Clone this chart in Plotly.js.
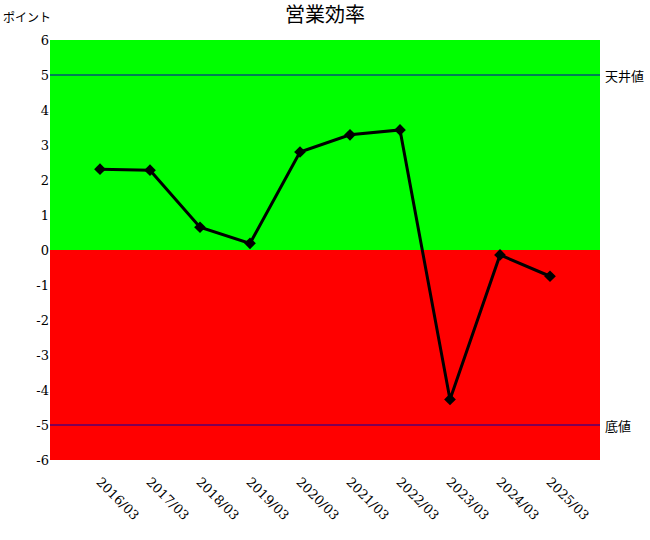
<!DOCTYPE html>
<html>
<head>
<meta charset="utf-8">
<script src="https://cdn.plot.ly/plotly-3.0.1.min.js"></script>
<style>body{margin:0;padding:0;} #chart{width:650px;height:540px;}</style>
</head>
<body>
<div id="chart"></div>
<script>
const categories = ["2016/03","2017/03","2018/03","2019/03","2020/03","2021/03","2022/03","2023/03","2024/03","2025/03"];
const values = [2.31, 2.28, 0.65, 0.19, 2.8, 3.29, 3.43, -4.27, -0.14, -0.75];
const ceilingValue = 5;
const floorValue = -5;
const yTicks = [-6,-5,-4,-3,-2,-1,0,1,2,3,4,5,6];

const trace = {
  x: categories.map((c,i)=>i),
  y: values,
  type: 'scatter',
  mode: 'lines+markers',
  line: {color: '#000000', width: 3},
  marker: {color: '#000000', size: 9, symbol: 'diamond'},
  hoverinfo: 'skip'
};

const layout = {
  width: 650, height: 540,
  margin: {l: 50, r: 50, t: 40, b: 80},
  showlegend: false,
  title: {text: '営業効率', font: {family: 'Noto Sans CJK JP', size: 20, color: '#000000'}, x: 0.5, xanchor: 'center', y: 0.985, yanchor: 'top'},
  xaxis: {
    range: [-1, categories.length],
    tickmode: 'array',
    tickvals: categories.map((c,i)=>i),
    ticktext: categories,
    tickangle: 45,
    showgrid: false, zeroline: false,
    ticks: 'outside', ticklen: 8, tickcolor: 'rgba(0,0,0,0)',
    tickfont: {family: 'DejaVu Serif', size: 13, color: '#000000'}
  },
  yaxis: {
    range: [-6, 6],
    tickmode: 'array',
    tickvals: yTicks,
    ticktext: yTicks.map(String),
    showgrid: false, zeroline: false,
    tickfont: {family: 'DejaVu Serif', size: 13, color: '#000000'}
  },
  shapes: [
    {type: 'rect', xref: 'paper', yref: 'y', x0: 0, x1: 1, y0: 0, y1: 6, fillcolor: '#00ff00', line: {width: 0}, layer: 'below'},
    {type: 'rect', xref: 'paper', yref: 'y', x0: 0, x1: 1, y0: -6, y1: 0, fillcolor: '#ff0000', line: {width: 0}, layer: 'below'},
    {type: 'line', xref: 'paper', yref: 'y', x0: 0, x1: 1, y0: ceilingValue, y1: ceilingValue, line: {color: '#0000aa', width: 1}, layer: 'below'},
    {type: 'line', xref: 'paper', yref: 'y', x0: 0, x1: 1, y0: floorValue, y1: floorValue, line: {color: '#0000aa', width: 1}, layer: 'below'}
  ],
  annotations: [
    {text: 'ポイント', xref: 'paper', yref: 'paper', x: -0.09, y: 1.055, xanchor: 'left', yanchor: 'middle', showarrow: false, font: {family: 'Noto Sans CJK JP', size: 12, color: '#000000'}},
    {text: '天井値', xref: 'paper', yref: 'y', x: 1.005, y: ceilingValue, xanchor: 'left', yanchor: 'middle', showarrow: false, font: {family: 'Noto Sans CJK JP', size: 13, color: '#000000'}},
    {text: '底値', xref: 'paper', yref: 'y', x: 1.005, y: floorValue, xanchor: 'left', yanchor: 'middle', showarrow: false, font: {family: 'Noto Sans CJK JP', size: 13, color: '#000000'}}
  ]
};

Plotly.newPlot('chart', [trace], layout, {displayModeBar: false});
</script>
</body>
</html>
